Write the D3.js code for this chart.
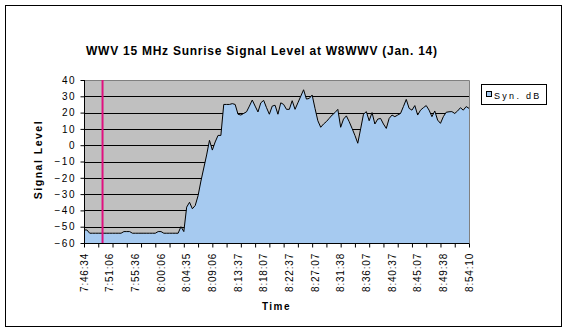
<!DOCTYPE html>
<html><head><meta charset="utf-8">
<script src="https://cdn.jsdelivr.net/npm/d3@7"></script>
<style>html,body{margin:0;padding:0;background:#fff;}svg{display:block;font-family:"Liberation Sans",Arial,sans-serif;}</style>
</head><body>
<script>
const title = "WWV 15 MHz Sunrise Signal Level at W8WWV (Jan. 14)";
const seriesName = "Syn. dB";
const yTicks = [40, 30, 20, 10, 0, -10, -20, -30, -40, -50, -60];
const xTickLabels = ["7:46:34","7:51:06","7:55:36","8:00:06","8:04:35","8:09:06","8:13:37","8:18:07","8:22:37","8:27:07","8:31:38","8:36:07","8:40:37","8:45:07","8:49:38","8:54:10"];
const labelEvery = 9;   // categories between labels
const tickEvery = 5;    // categories between tick marks
const markerIndex = 6.5; // category position of the vertical marker
const values = [
 -52,-52,-54,-54,-54,-54,-54,-54,-54,-54,
 -54,-54,-54,-54,-53,-53,-53,-54,-54,-54,
 -54,-54,-54,-54,-54,-54,-53,-53,-54,-54,
 -54,-54,-54,-54,-50,-53,-38,-35,-39,-37,
 -31,-22,-14,-6,3,-3,2,6,6,25,
 25,25,25.5,25,19,18.5,19.5,20.5,24,27.7,
 24,20.4,26,27.5,23,19,24,24.5,19,26,
 25,22,22,27.3,22,26,30,34,28.3,28.7,
 30.8,22.6,15,11,13,14.5,16.5,18.5,20,22,
 11,16,18,14.4,10.3,6,1.2,10,19,20.6,
 15,20,13,16,16.4,13,10.3,16.4,18.5,17.5,
 18.5,19.5,23.7,28.1,22.6,21.5,24.3,18.5,21.5,23,
 24.3,21.5,17.5,21,15.4,13.4,17.5,20.2,20.5,20.6,
 19.5,21,23,21.5,23.7,22.6
];

const W = 567, H = 335;
const svg = d3.select("body").append("svg").attr("width", W).attr("height", H);

// outer chart border
svg.append("rect").attr("x", 5.5).attr("y", 5.5).attr("width", 556).attr("height", 321)
  .attr("fill", "#fff").attr("stroke", "#000").attr("stroke-width", 1);

const plot = {left: 84, right: 469, top: 80, bottom: 243};
const x = d3.scaleLinear().domain([0, values.length - 1]).range([plot.left, plot.right]);
const y = d3.scaleLinear().domain([-60, 40]).range([plot.bottom, plot.top]);

// plot background
svg.append("rect").attr("x", plot.left).attr("y", plot.top)
  .attr("width", plot.right - plot.left).attr("height", plot.bottom - plot.top)
  .attr("fill", "#c0c0c0");

// gridlines
svg.append("g").selectAll("line").data(yTicks.filter(v => v < 40 && v > -60)).join("line")
  .attr("x1", plot.left).attr("x2", plot.right)
  .attr("y1", d => Math.round(y(d)) + 0.5).attr("y2", d => Math.round(y(d)) + 0.5)
  .attr("stroke", "#000").attr("stroke-width", 1);

// area
const area = d3.area().x((d, i) => x(i)).y0(y(-60)).y1(d => y(d));
svg.append("path").datum(values).attr("d", area).attr("fill", "#a6caf0");
const line = d3.line().x((d, i) => x(i)).y(d => y(d));
svg.append("path").datum(values).attr("d", line).attr("fill", "none")
  .attr("stroke", "#000").attr("stroke-width", 1);

// plot border top/right
svg.append("path").attr("d", `M${plot.left},${plot.top + 0.5}H${plot.right + 0.5}V${plot.bottom}`)
  .attr("fill", "none").attr("stroke", "#808080").attr("stroke-width", 1);

// vertical marker
svg.append("line").attr("x1", x(markerIndex)).attr("x2", x(markerIndex))
  .attr("y1", plot.top).attr("y2", plot.bottom)
  .attr("stroke", "#e0107f").attr("stroke-width", 2);

// y axis
const yAxis = d3.axisLeft(y).tickValues(yTicks).tickSize(4).tickPadding(6).tickFormat(d3.format("d"));
const gy = svg.append("g").attr("transform", `translate(${plot.left + 0.5},0)`).call(yAxis);
gy.selectAll(".domain").attr("stroke", "#000").attr("d", `M0,${plot.top}V${plot.bottom + 0.5}`);
gy.selectAll(".tick line").attr("stroke", "#000");
gy.selectAll(".tick text").attr("font-size", 10).attr("fill", "#000")
  .attr("font-family", "Liberation Sans, Arial, sans-serif")
  .style("letter-spacing", "1.5px").attr("dx", "1.5px");

// x axis
const tickIdx = d3.range(0, values.length, tickEvery);
const xAxis = d3.axisBottom(x).tickValues(tickIdx).tickSize(4).tickFormat("");
const gx = svg.append("g").attr("transform", `translate(0,${plot.bottom + 0.5})`).call(xAxis);
gx.select(".domain").attr("d", `M${plot.left},0H${plot.right + 0.5}`).attr("stroke", "#000");
gx.selectAll(".tick line").attr("stroke", "#000");

svg.append("g").selectAll("text").data(xTickLabels).join("text")
  .attr("transform", (d, k) => `translate(${x(k * labelEvery)},${plot.bottom + 10}) rotate(-90)`)
  .attr("text-anchor", "end").attr("dy", "0.35em")
  .attr("font-size", 10).style("letter-spacing", "0.8px").attr("fill", "#000")
  .text(d => d);

// axis titles
svg.append("text").attr("x", 276.5).attr("y", 310).attr("text-anchor", "middle")
  .attr("font-size", 10).attr("font-weight", "bold").style("letter-spacing", "1.5px")
  .text("Time");
svg.append("text").attr("transform", `translate(42,${(plot.top + plot.bottom) / 2 - 2}) rotate(-90)`)
  .attr("text-anchor", "middle").attr("font-size", 10.5).attr("font-weight", "bold")
  .style("letter-spacing", "1.5px").text("Signal Level");

// title
svg.append("text").attr("x", 86).attr("y", 55).attr("font-size", 12).attr("font-weight", "bold")
  .attr("textLength", 351).attr("lengthAdjust", "spacing").text(title);

// legend
const lg = svg.append("g");
lg.append("rect").attr("x", 481.5).attr("y", 84.5).attr("width", 65).attr("height", 20)
  .attr("fill", "#fff").attr("stroke", "#000");
lg.append("rect").attr("x", 486.5).attr("y", 91.5).attr("width", 5).attr("height", 5)
  .attr("fill", "#a6caf0").attr("stroke", "#000");
lg.append("text").attr("x", 494).attr("y", 98.5).attr("font-size", 9)
  .style("letter-spacing", "2.3px").text(seriesName);
</script>
</body></html>
